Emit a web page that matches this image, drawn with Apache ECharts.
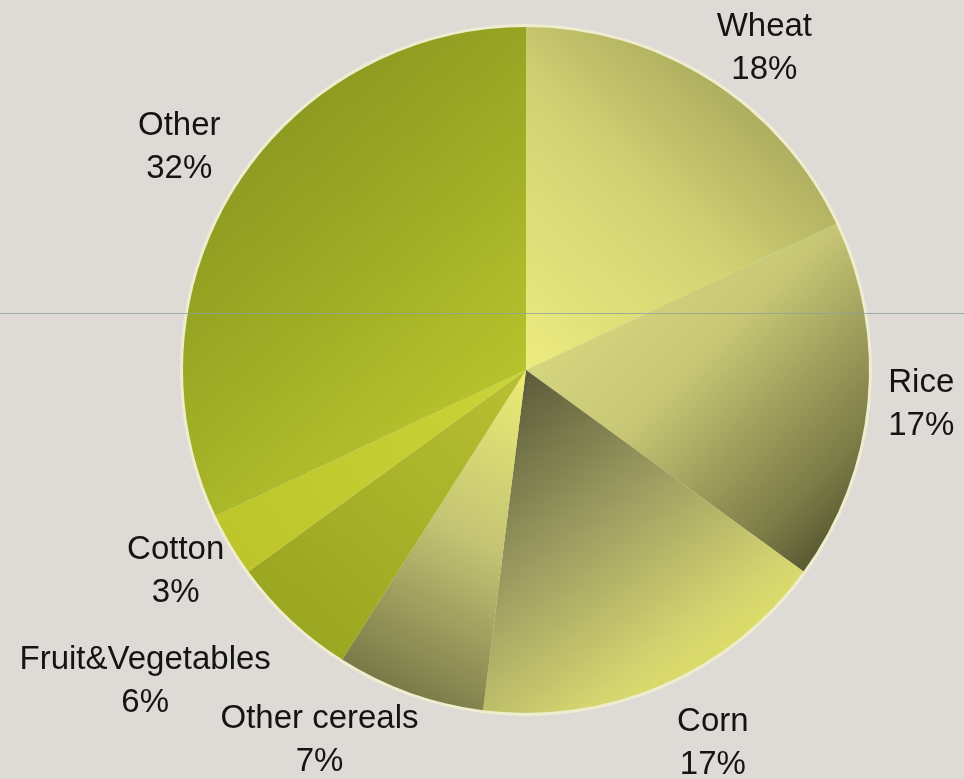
<!DOCTYPE html>
<html>
<head>
<meta charset="utf-8">
<script src="https://cdn.jsdelivr.net/npm/echarts@6/dist/echarts.min.js"></script>
<style>
  html, body { margin: 0; padding: 0; background: #dedad5; }
  #chart { width: 964px; height: 779px; }
</style>
</head>
<body>
<div id="chart"></div>
<script>
// Crop shares (percent of total)
const categories = ['Wheat', 'Rice', 'Corn', 'Other cereals', 'Fruit&Vegetables', 'Cotton', 'Other'];
const shares = [18, 17, 17, 7, 6, 3, 32];

// Pie geometry (pixels)
const CX = 526, CY = 370, RADIUS = 343, LABEL_R = 400;

// Per-slice gradient fills: [x, y, x2, y2, stops]
const sliceFills = {
  'Wheat':            [0, 1, 1, 0, [[0, '#ecec80'], [0.45, '#d2d274'], [1, '#8e8e4e']]],
  'Rice':             [0, 0, 1, 1, [[0, '#e4e48a'], [0.45, '#c6c674'], [0.8, '#7a7a46'], [1, '#3c3c22']]],
  'Corn':             [0.15, 0, 0.9, 0.95, [[0, '#5c5c3a'], [0.4, '#9e9e62'], [0.75, '#d4d470'], [1, '#eaea5c']]],
  'Other cereals':    [1, 0, 0, 1, [[0, '#ecec74'], [0.45, '#c4c474'], [1, '#66663e']]],
  'Fruit&Vegetables': [1, 0, 0, 1, [[0, '#b8c032'], [1, '#96a21e']]],
  'Cotton':           [1, 0, 0, 1, [[0, '#cad438'], [1, '#bcc42a']]],
  'Other':            [0, 0, 1, 0.8, [[0, '#808c1e'], [0.5, '#9aa824'], [1, '#bcc82e']]]
};

// Label placement nudges (pixels) relative to the mid-angle anchor
const labelNudge = {
  'Wheat': [24, 16],
  'Rice': [-3, -3],
  'Corn': [28, 6],
  'Other cereals': [-71, -6],
  'Fruit&Vegetables': [-107, 20],
  'Cotton': [-6, -2],
  'Other': [-9, -8]
};

const total = shares.reduce((a, b) => a + b, 0);
function midAngle(i) {
  let acc = 0;
  for (let j = 0; j < i; j++) acc += shares[j];
  return (acc + shares[i] / 2) / total * Math.PI * 2;
}

function fill(name) {
  const f = sliceFills[name];
  return {
    type: 'linear', x: f[0], y: f[1], x2: f[2], y2: f[3],
    colorStops: f[4].map(s => ({ offset: s[0], color: s[1] }))
  };
}

const chart = echarts.init(document.getElementById('chart'), null, { renderer: 'canvas' });

chart.setOption({
  backgroundColor: '#dedad5',
  animation: false,
  series: [
    {
      // pale rim behind the pie
      type: 'pie',
      silent: true,
      center: [CX, CY],
      radius: RADIUS + 3,
      label: { show: false },
      labelLine: { show: false },
      itemStyle: { color: '#efedcf' },
      data: [{ value: 1, name: '' }],
      z: 1
    },
    {
      type: 'pie',
      center: [CX, CY],
      radius: RADIUS,
      startAngle: 90,
      clockwise: true,
      z: 2,
      avoidLabelOverlap: false,
      data: categories.map((c, i) => ({
        name: c,
        value: shares[i],
        itemStyle: { color: fill(c) }
      })),
      label: {
        show: true,
        position: 'outside',
        formatter: '{b}\n{c}%',
        fontFamily: '"Liberation Sans", Arial, sans-serif',
        fontSize: 33,
        lineHeight: 43,
        color: '#141414',
        overflow: 'none'
      },
      labelLine: { show: false },
      labelLayout: function (p) {
        const a = midAngle(p.dataIndex);
        const n = labelNudge[categories[p.dataIndex]];
        return {
          x: CX + LABEL_R * Math.sin(a) + n[0],
          y: CY - LABEL_R * Math.cos(a) + n[1],
          align: 'center',
          verticalAlign: 'middle'
        };
      },
      emphasis: { disabled: true }
    }
  ],
  graphic: [
    {
      type: 'line',
      z: 100,
      silent: true,
      shape: { x1: 0, y1: 313.5, x2: 964, y2: 313.5 },
      style: { stroke: '#8fa09c', lineWidth: 1, opacity: 0.8 }
    }
  ]
});
</script>
</body>
</html>
